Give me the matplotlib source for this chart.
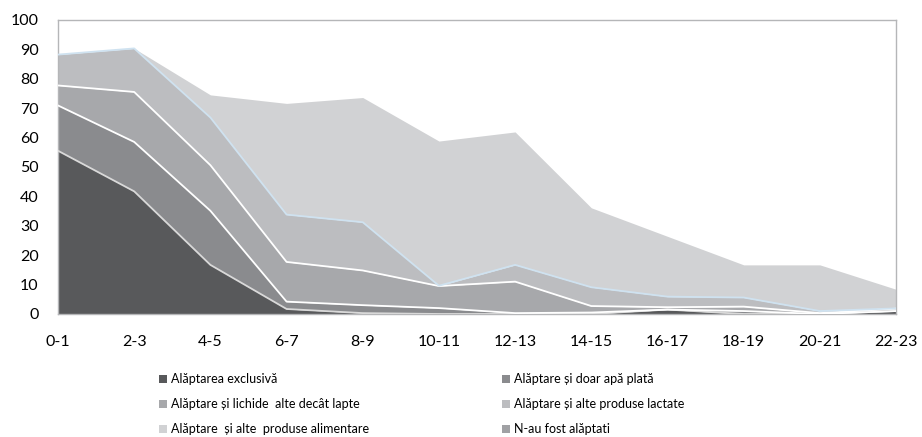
import matplotlib

matplotlib.use("Agg")
import matplotlib.pyplot as plt
import numpy as np

plt.rcParams["font.family"] = ["Lato", "DejaVu Sans"]

age_groups = ["0-1", "2-3", "4-5", "6-7", "8-9", "10-11",
              "12-13", "14-15", "16-17", "18-19", "20-21", "22-23"]

exclusiva = [55.5, 41.7, 16.7, 1.7, 0.3, 0.0, 0.0, 0.0, 1.5, 0.0, 0.0, 1.0]
doar_apa = [15.4, 16.8, 18.4, 2.5, 2.7, 2.0, 0.3, 0.5, 0.0, 1.0, 0.0, 0.0]
lichide = [6.8, 17.0, 15.5, 13.5, 11.8, 7.5, 10.7, 2.2, 0.8, 1.5, 0.3, 0.8]
lactate = [10.5, 14.8, 16.2, 16.1, 16.4, 0.1, 5.7, 6.4, 3.6, 3.1, 0.7, 0.1]
alimentare = [0.0, 0.0, 7.7, 37.8, 42.4, 49.2, 45.2, 27.0, 20.5, 11.1, 15.7, 6.5]
neallaptati = [0.0] * 12

series_names = [
    "Alăptarea exclusivă",
    "Alăptare și doar apă plată",
    "Alăptare și lichide  alte decât lapte",
    "Alăptare și alte produse lactate",
    "Alăptare  și alte  produse alimentare",
    "N-au fost alăptati",
]
series = [exclusiva, doar_apa, lichide, lactate, alimentare, neallaptati]
fill_colors = ["#58595b", "#8a8b8e", "#a7a8ab", "#bcbdc0", "#d1d2d4", "#a0a1a4"]
edge_colors = ["#d9d9d9", "white", "white", "#cfe2f0", None, None]

fig = plt.figure(figsize=(9.22, 4.37), dpi=100)
ax = fig.add_axes([0.0629, 0.2815, 0.909, 0.673])

x = np.arange(len(age_groups))
bottom = np.zeros(len(age_groups))
handles = []
for name, vals, fc in zip(series_names, series, fill_colors):
    top = bottom + np.asarray(vals)
    h = ax.fill_between(x, bottom, top, color=fc, linewidth=0, label=name)
    handles.append(h)
    bottom = top

# boundary lines drawn afterwards so they sit on top of the fills
bottom = np.zeros(len(age_groups))
for vals, ec in zip(series, edge_colors):
    bottom = bottom + np.asarray(vals)
    if ec is not None:
        ax.plot(x, bottom, color=ec, linewidth=1.3, zorder=3)

ax.set_xlim(0, len(age_groups) - 1)
ax.set_ylim(0, 100)
ax.set_yticks(np.arange(0, 101, 10))
ax.set_xticks(x)
ax.set_xticklabels(age_groups)
ax.tick_params(axis="both", length=0, labelsize=11.5, colors="black")
ax.tick_params(axis="y", pad=14)
ax.tick_params(axis="x", pad=15)
for spine in ax.spines.values():
    spine.set_color("#b5b6b8")
    spine.set_linewidth(1.0)

order = [0, 2, 4, 1, 3, 5]
fig.legend(
    [handles[i] for i in order],
    [series_names[i] for i in order],
    ncol=2,
    loc="upper left",
    bbox_to_anchor=(0.172, 0.146),
    frameon=False,
    fontsize=9,
    handlelength=0.65,
    handleheight=0.65,
    handletextpad=0.35,
    columnspacing=10.6,
    labelspacing=1.04,
    borderaxespad=0,
    borderpad=0,
)

fig.savefig("out.png", dpi=100)
